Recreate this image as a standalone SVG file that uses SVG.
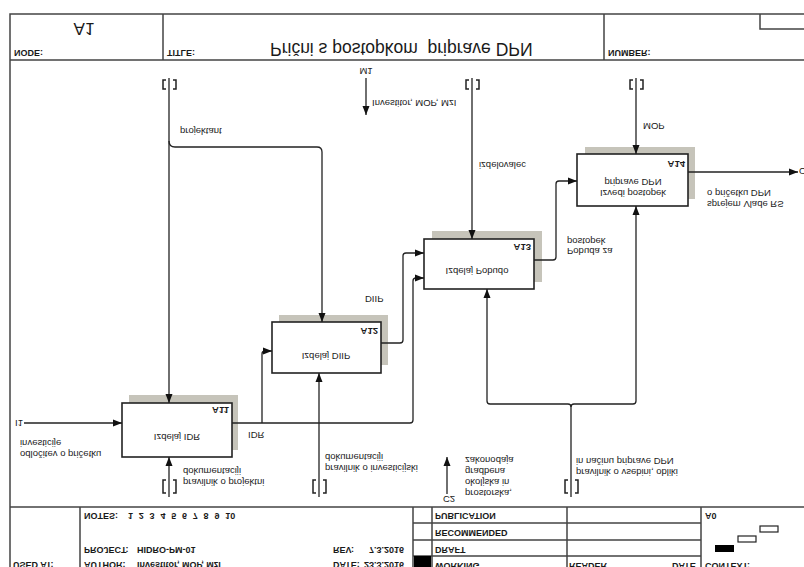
<svg xmlns="http://www.w3.org/2000/svg" width="804" height="567" viewBox="0 0 804 567">
<defs>
<marker id="ah" markerWidth="10" markerHeight="8" refX="9" refY="4" orient="auto" markerUnits="userSpaceOnUse"><path d="M0,0.5 L9,4 L0,7.5 z" fill="#111"/></marker>
<style>
.fr{fill:none;stroke:#444;stroke-width:1.5}
.bx{fill:#fff;stroke:#222;stroke-width:1.6}
.sh{fill:#c6c4ba}
.cn{fill:none;stroke:#222;stroke-width:1.3;marker-end:url(#ah)}
.tb{fill:none;stroke:#222;stroke-width:1.5}
text{font-family:"Liberation Sans",Arial,sans-serif;fill:#1a1a1a}
.lb{font-size:9.5px}
.hd{font-size:9px;font-weight:bold}
.nn{font-size:9.5px;font-weight:bold}
.mid{text-anchor:middle}
.end{text-anchor:end}
</style>
</defs>
<rect width="804" height="567" fill="#fff"/>
<g id="page" transform="matrix(1 0 0 -1 0 567)">
  <g id="frame">
    <path class="fr" d="M10,0 V553 H804 M10,507 H804 M10,60 H804 M163,507 V553 M604,507 V553 M760,553 V538 H804"/>
    <path class="fr" d="M80,0 V60 M413,0 V60 M432,0 V60 M567,0 V60 M701,0 V60 M413,44 H701 M413,27 H701 M413,11 H701"/>
    <rect x="414" y="0" width="17" height="11" fill="#000"/>
    <rect x="715" y="15" width="19" height="7" fill="#000"/>
    <rect x="738" y="25" width="18" height="6" fill="#fff" stroke="#222" stroke-width="1.2"/>
    <rect x="760" y="35" width="18" height="6" fill="#fff" stroke="#222" stroke-width="1.2"/>
    <text x="84" y="544" class="mid" style="font-size:17px">A1</text>
    <text x="14" y="517" class="hd">NODE:</text>
    <text x="167" y="517" class="hd">TITLE:</text>
    <text x="608" y="517" class="hd">NUMBER:</text>
    <text x="270" y="524" style="font-size:17.5px" xml:space="preserve">Prični s postopkom  priprave DPN</text>
    <text x="13" y="5" class="hd">USED AT:</text>
    <text x="84" y="5" class="hd">AUTHOR:</text>
    <text x="137" y="5" class="hd">Investitor, MOP, MzI</text>
    <text x="84" y="20" class="hd">PROJECT:</text>
    <text x="137" y="20" class="hd">HIDRO-PM-01</text>
    <text x="84" y="54" class="hd">NOTES:<tspan x="128">1</tspan><tspan x="138.8">2</tspan><tspan x="149.6">3</tspan><tspan x="160.4">4</tspan><tspan x="171.2">5</tspan><tspan x="182">6</tspan><tspan x="192.8">7</tspan><tspan x="203.6">8</tspan><tspan x="214.4">9</tspan><tspan x="225.2">10</tspan></text>
    <text x="333" y="20" class="hd">REV:</text>
    <text x="404" y="20" class="hd end">7.3.2016</text>
    <text x="333" y="5" class="hd">DATE:</text>
    <text x="404" y="5" class="hd end">23.3.2016</text>
    <text x="435" y="4" class="hd">WORKING</text>
    <text x="435" y="20" class="hd">DRAFT</text>
    <text x="435" y="37" class="hd">RECOMMENDED</text>
    <text x="435" y="54" class="hd">PUBLICATION</text>
    <text x="569" y="4" class="hd">READER</text>
    <text x="672" y="4" class="hd">DATE</text>
    <text x="705" y="4" class="hd">CONTEXT:</text>
    <text x="705" y="54" class="hd">A0</text>
  </g>
  <g id="A11">
    <rect class="sh" x="129" y="117" width="109" height="55"/>
    <rect class="bx" x="122" y="110" width="110" height="54"/>
    <text x="229" y="160" class="nn end">A11</text>
    <text x="177" y="133" class="lb mid">Izdelaj IDR</text>
  </g>
  <g id="A12">
    <rect class="sh" x="279" y="202" width="109" height="50"/>
    <rect class="bx" x="272" y="194" width="109" height="51"/>
    <text x="378" y="239" class="nn end">A12</text>
    <text x="326" y="214" class="lb mid">Izdelaj DIIP</text>
  </g>
  <g id="A13">
    <rect class="sh" x="432" y="285" width="110" height="51"/>
    <rect class="bx" x="424" y="278" width="110" height="50"/>
    <text x="531" y="323" class="nn end">A13</text>
    <text x="477" y="299" class="lb mid">Izdelaj Pobudo</text>
  </g>
  <g id="A14">
    <rect class="sh" x="585" y="368" width="110" height="52"/>
    <rect class="bx" x="577" y="361" width="111" height="52"/>
    <text x="685" y="406" class="nn end">A14</text>
    <text x="633" y="377" class="lb mid">Izvedi postopek</text>
    <text x="633" y="388" class="lb mid">priprave DPN</text>
  </g>
  <g id="connectors">
    <path class="cn" d="M24,144 H122"/>
    <path class="cn" d="M232,144 H410 Q413,144 413,147 V286 Q413,289 416,289 H424"/>
    <path class="cn" d="M262,144 V213 Q262,216 265,216 H272"/>
    <path class="cn" d="M381,224 H400 Q403,224 403,227 V311 Q403,314 406,314 H424"/>
    <path class="cn" d="M534,307 H553 Q556,307 556,310 V383 Q556,386 559,386 H577"/>
    <path class="cn" d="M688,395 H798"/>
    <path class="cn" d="M169,489 V164"/>
    <path class="cn" d="M169,426 Q169,420 175,420 H317 Q322,420 322,415 V245"/>
    <path class="cn" d="M366,489 V452"/>
    <path class="cn" d="M472,489 V328"/>
    <path class="cn" d="M636,489 V413"/>
    <path class="cn" d="M169,70 V110"/>
    <path class="cn" d="M319,70 V194"/>
    <path class="cn" d="M447,73 V110"/>
    <path class="cn" d="M571,70 V160 Q571,163 568,163 H490 Q487,163 487,166 V278"/>
    <path class="cn" d="M571,160 Q571,163 574,163 H633 Q636,163 636,166 V361"/>
    <path class="tb" d="M166,478 H163 V487 H166 M173,478 H176 V487 H173"/>
    <path class="tb" d="M469,478 H466 V487 H469 M476,478 H479 V487 H476"/>
    <path class="tb" d="M633,478 H630 V487 H633 M640,478 H643 V487 H640"/>
    <path class="tb" d="M166,74 H163 V87 H166 M173,74 H176 V87 H173"/>
    <path class="tb" d="M316,74 H313 V87 H316 M323,74 H326 V87 H323"/>
    <path class="tb" d="M568,74 H565 V87 H568 M575,74 H578 V87 H575"/>
    <text x="15" y="147" class="lb">I1</text>
    <text x="20" y="116" class="lb">odločitev o pričetku</text>
    <text x="20" y="127" class="lb">investicije</text>
    <text x="248" y="135" class="lb">IDR</text>
    <text x="365" y="271" class="lb">DIIP</text>
    <text x="567" y="319" class="lb">Pobuda za</text>
    <text x="567" y="329" class="lb">postopek</text>
    <text x="707" y="366" class="lb">sprejem Vlade RS</text>
    <text x="707" y="377" class="lb">o pričetku DPN</text>
    <text x="799" y="399" class="lb">O1</text>
    <text x="180" y="439" class="lb">projektant</text>
    <text x="366" y="499" class="lb mid">M1</text>
    <text x="372" y="467" class="lb">Investitor, MOP, MzI</text>
    <text x="479" y="405" class="lb">izdelovalec</text>
    <text x="643" y="444" class="lb">MOP</text>
    <text x="183" y="88" class="lb">pravilnik o projektni</text>
    <text x="183" y="99" class="lb">dokumentaciji</text>
    <text x="325" y="102" class="lb">pravilnik o investicijski</text>
    <text x="325" y="113" class="lb">dokumentaciji</text>
    <text x="449" y="71" class="lb mid">C2</text>
    <text x="465" y="77" class="lb">prostorska,</text>
    <text x="465" y="88" class="lb">okoljska in</text>
    <text x="465" y="99" class="lb">gradbena</text>
    <text x="465" y="110" class="lb">zakonodaja</text>
    <text x="576" y="98" class="lb">pravilnik o vsebini, obliki</text>
    <text x="576" y="109" class="lb">in načinu priprave DPN</text>
  </g>
</g>
</svg>
